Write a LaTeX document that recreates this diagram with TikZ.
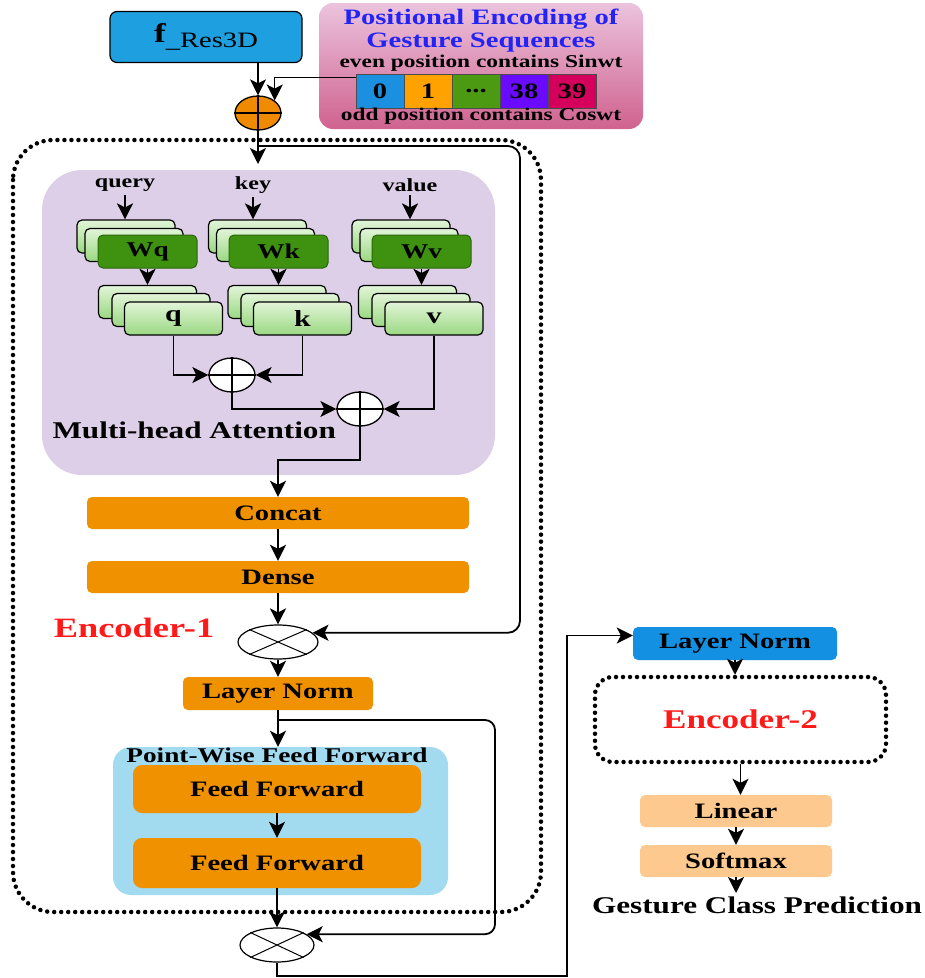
\documentclass[tikz,border=0pt]{standalone}
\usepackage{fontspec}
\setmainfont{Liberation Serif}[FakeStretch=1.3]
\usetikzlibrary{arrows.meta,shapes.geometric}

\definecolor{resblue}{HTML}{1E9FE0}
\definecolor{pktop}{HTML}{EBC3DD}
\definecolor{pkbot}{HTML}{D0628F}
\definecolor{petitle}{HTML}{2323F5}
\definecolor{addor}{HTML}{F08A00}
\definecolor{cblue}{HTML}{1B8FE0}
\definecolor{corange}{HTML}{FFA200}
\definecolor{cgreen}{HTML}{4C9A12}
\definecolor{cviolet}{HTML}{6A0AFF}
\definecolor{ccrimson}{HTML}{D4005C}
\definecolor{attbg}{HTML}{DDCFE7}
\definecolor{lgtop}{HTML}{E2F5D8}
\definecolor{lgbot}{HTML}{9AD882}
\definecolor{dkgreen}{HTML}{3E920F}
\definecolor{ordark}{HTML}{F09100}
\definecolor{pwbg}{HTML}{A2DAF0}
\definecolor{lnblue}{HTML}{1390E2}
\definecolor{orlight}{HTML}{FDC98E}
\definecolor{encred}{HTML}{FF1A1A}

\tikzset{
  arr/.style={-{Stealth[length=16pt,width=16pt,inset=4pt]}, line width=1.8pt},
  lbl/.style={font=\bfseries\fontsize{#1}{#1}\selectfont},
  dotline/.style={line width=4.5pt, dash pattern=on 0pt off 7pt, line cap=round},
  fbox/.style={fill=resblue, draw=black, line width=1.2pt, rounded corners=7pt, minimum width=192pt, minimum height=51pt, inner sep=0pt},
  pebox/.style={top color=pktop, bottom color=pkbot, rounded corners=14pt, minimum width=324pt, minimum height=126pt},
  cell/.style={draw=black!70, line width=0.8pt, minimum width=48pt, minimum height=34pt, inner sep=0pt, lbl=22},
  addop/.style={ellipse, draw, line width=1.3pt, fill=white, minimum width=46pt, minimum height=34pt, inner sep=0pt},
  mulop/.style={ellipse, draw, line width=1.2pt, fill=white, minimum width=80pt, minimum height=34pt, inner sep=0pt},
  attbox/.style={fill=attbg, rounded corners=40pt, minimum width=453pt, minimum height=305pt},
  layer/.style={top color=lgtop, bottom color=lgbot, draw=black, line width=1.2pt, rounded corners=5pt, minimum width=98pt, minimum height=33pt, inner sep=0pt},
  wbox/.style={fill=dkgreen, draw=dkgreen!70!black, line width=1pt, rounded corners=5pt, minimum width=99pt, minimum height=33pt, inner sep=0pt, lbl=21},
  orbox/.style={fill=ordark, rounded corners=5pt, inner sep=0pt, lbl=22},
  pwbox/.style={fill=pwbg, rounded corners=18pt, minimum width=335pt, minimum height=148pt},
  lnbox/.style={fill=lnblue, rounded corners=5pt, minimum width=204pt, minimum height=33pt, inner sep=0pt, lbl=22},
  encbox/.style={draw, dotline, rounded corners=18pt, minimum width=291pt, minimum height=85pt, lbl=27, text=encred},
  lobox/.style={fill=orlight, rounded corners=5pt, minimum width=192pt, minimum height=32pt, inner sep=0pt, lbl=22}
}

\begin{document}
\begin{tikzpicture}[x=1pt,y=-1pt]
\useasboundingbox (0,0) rectangle (925,978);

% Encoder-1 frame
\draw[dotline, rounded corners=40pt] (13,140) rectangle (541,912);

% Input and positional encoding
\node[fbox] (fres) at (206,37) {{\bfseries\fontsize{27}{27}\selectfont f}\raisebox{-5pt}{\fontsize{22}{22}\selectfont\_Res3D}};
\node[pebox] (pe) at (481,66) {};
\node[lbl=22, text=petitle, align=center] (petxt) at (481,31) {Positional Encoding of\\[1pt]Gesture Sequences};
\node[lbl=18] (even) at (481,63) {even position contains Sinwt};
\node[cell, fill=cblue] (c0) at (380,91) {0};
\node[cell, fill=corange] (c1) at (428,91) {1};
\node[cell, fill=cgreen] (c2) at (476,91) {...};
\node[cell, fill=cviolet] (c3) at (524,91) {38};
\node[cell, fill=ccrimson] (c4) at (572,91) {39};
\node[lbl=18] (odd) at (481,116) {odd position contains Coswt};

\node[addop, fill=addor] (add) at (258,113) {};
\draw[line width=1.3pt] (add.north) -- (add.south) (add.west) -- (add.east);

% Multi-head attention
\node[attbox] (att) at (268.5,322.5) {};
\node[lbl=18.5] (query) at (125,185) {query};
\node[lbl=18.5] (key) at (253,185) {key};
\node[lbl=18.5] (value) at (410,185) {value};

\node[layer] (wq1) at (126,236.5) {};
\node[layer] (wq2) at (134,245) {};
\node[wbox] (wq) at (147.5,251.5) {Wq};
\node[layer] (wk1) at (257.5,236.5) {};
\node[layer] (wk2) at (265.5,245) {};
\node[wbox] (wk) at (278.5,251.5) {Wk};
\node[layer] (wv1) at (401,236.5) {};
\node[layer] (wv2) at (409,245) {};
\node[wbox] (wv) at (421.5,251.5) {Wv};

\node[layer] (q1) at (147.5,302) {};
\node[layer] (q2) at (161,310) {};
\node[layer, lbl=23] (q) at (173.5,318.5) {q};
\node[layer] (k1) at (277,302) {};
\node[layer] (k2) at (290,310) {};
\node[layer, lbl=23] (k) at (302.5,318.5) {k};
\node[layer] (v1) at (407.5,302) {};
\node[layer] (v2) at (421,310) {};
\node[layer, lbl=23] (v) at (434,318.5) {v};

\node[addop] (p1) at (232,375) {};
\draw[line width=1.3pt] (p1.north) -- (p1.south) (p1.west) -- (p1.east);
\node[addop] (p2) at (360,409) {};
\draw[line width=1.3pt] (p2.north) -- (p2.south) (p2.west) -- (p2.east);
\node[lbl=24, anchor=west] (mha) at (49,430) {Multi-head Attention};

% Encoder-1 body
\node[orbox, minimum width=382pt, minimum height=32pt] (concat) at (278,513) {Concat};
\node[orbox, minimum width=382pt, minimum height=32pt] (dense) at (278,577) {Dense};
\node[mulop] (cross1) at (278,642) {};
\draw[line width=1pt] (cross1.north west) -- (cross1.south east) (cross1.north east) -- (cross1.south west);
\node[lbl=28, text=encred] (enc1) at (134,628) {Encoder-1};
\node[orbox, minimum width=190pt, minimum height=33pt] (ln1) at (278,693.5) {Layer Norm};

\node[pwbox] (pw) at (280.5,821) {};
\node[lbl=21] (pwtxt) at (277,755) {Point-Wise Feed Forward};
\node[orbox, rounded corners=9pt, minimum width=288pt, minimum height=48pt] (ff1) at (277,789) {Feed Forward};
\node[orbox, rounded corners=9pt, minimum width=288pt, minimum height=50pt] (ff2) at (277,863) {Feed Forward};
\node[mulop, minimum width=74pt] (cross2) at (277,945) {};
\draw[line width=1pt] (cross2.north west) -- (cross2.south east) (cross2.north east) -- (cross2.south west);

% Encoder-2 branch
\node[lnbox] (ln2) at (735,643.5) {Layer Norm};
\node[encbox] (enc2) at (740.5,719.5) {Encoder-2};
\node[lobox] (lin) at (736,811) {Linear};
\node[lobox] (soft) at (736,861) {Softmax};
\node[lbl=24] (gcp) at (757,905) {Gesture Class Prediction};

% Connectors
\draw[arr] (add.north |- fres.south) -- (add.north);
\draw[arr, line width=1.4pt] ([yshift=-4pt]c0.north west) -| (add.north east);
\coordinate (attin) at (258,164);
\draw[arr] (add.south) -- (attin);

\draw[arr] (query.south) -- (query.south |- wq1.north);
\draw[arr] (key.south) -- (key.south |- wk1.north);
\draw[arr] (value.south) -- (value.south |- wv1.north);
\draw[arr] (wq.south) -- (wq.south |- q1.north);
\draw[arr] (wk.south) -- (wk.south |- k1.north);
\draw[arr] (wv.south) -- (wv.south |- v1.north);
\draw[arr] (q.south) |- (p1.west);
\draw[arr] (k.south) |- (p1.east);
\draw[arr] (p1.south) |- (p2.west);
\draw[arr] (v.south) |- (p2.east);
\coordinate (mhout) at (278,460);
\draw[arr] (p2.south) |- (mhout) -- (concat.north);

\draw[arr] (concat.south) -- (dense.north);
\draw[arr] (dense.south) -- (cross1.north);
\draw[arr] (cross1.south) -- (ln1.north);
\draw[arr] (ln1.south) -- (ln1.south |- pw.north);
\draw[arr] (ff1.south) -- (ff2.north);
\draw[arr] (ff2.south) -- (cross2.north);

% residual paths
\coordinate (res1) at (258,146);
\coordinate (r1) at (520,146);
\draw[arr, rounded corners=12pt] (res1) -- (r1) |- (cross1.15);
\coordinate (res2) at (278,720);
\coordinate (r2) at (495,720);
\draw[arr, rounded corners=10pt] (res2) -- (r2) |- (cross2.20);

\coordinate (bot) at (567,976);
\draw[arr] (cross2.south) |- (bot) |- ([yshift=8pt]ln2.west);
\draw[arr] (ln2.south) -- (ln2.south |- enc2.north);
\draw[arr] (enc2.south) -- (enc2.south |- lin.north);
\draw[arr] (lin.south) -- (soft.north);
\draw[arr] (soft.south) -- (soft.south |- gcp.north);
\end{tikzpicture}
\end{document}
